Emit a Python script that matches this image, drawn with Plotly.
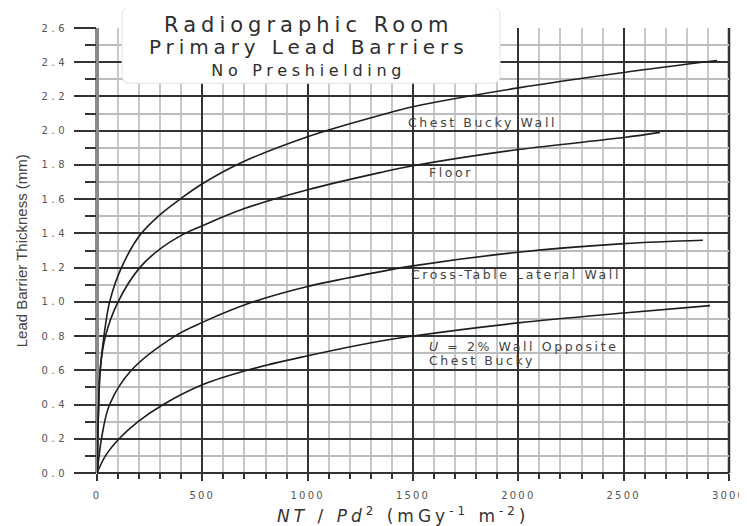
import plotly.graph_objects as go

# ---- data ----
chest_x = [0, 3, 8, 15, 33, 60, 116, 204, 300, 400, 500, 679, 1000, 1343, 1500, 2000, 2500, 2943]
chest_y = [0, 0.2, 0.4, 0.6, 0.8, 1.0, 1.2, 1.39, 1.51, 1.605, 1.69, 1.81, 1.965, 2.09, 2.14, 2.25, 2.34, 2.41]

floor_x = [0, 3, 8, 15, 40, 100, 203, 300, 418, 500, 700, 1000, 1343, 1500, 2000, 2500, 2672]
floor_y = [0, 0.2, 0.4, 0.6, 0.8, 1.0, 1.2, 1.31, 1.40, 1.445, 1.545, 1.655, 1.755, 1.795, 1.89, 1.96, 1.99]

cross_x = [0, 10, 21, 60, 163, 370, 500, 742, 1000, 1296, 1500, 2000, 2500, 2876]
cross_y = [0, 0.1, 0.2, 0.4, 0.6, 0.8, 0.88, 1.0, 1.09, 1.165, 1.21, 1.29, 1.34, 1.36]

u2_x = [0, 40, 105, 195, 315, 500, 742, 1000, 1296, 1500, 2000, 2500, 2910]
u2_y = [0, 0.1, 0.2, 0.3, 0.4, 0.515, 0.61, 0.685, 0.76, 0.80, 0.877, 0.935, 0.978]

x_tickvals = [0, 500, 1000, 1500, 2000, 2500, 3000]
x_ticklabels = ["0", "500", "1000", "1500", "2000", "2500", "3000"]
y_tickvals = [0.0, 0.2, 0.4, 0.6, 0.8, 1.0, 1.2, 1.4, 1.6, 1.8, 2.0, 2.2, 2.4, 2.6]
y_ticklabels = ["0.0", "0.2", "0.4", "0.6", "0.8", "1.0", "1.2", "1.4", "1.6", "1.8", "2.0", "2.2", "2.4", "2.6"]

curve_labels = [
    # text lines, x, y, xanchor
    (["Chest Bucky Wall"], 1828, 2.047, "center"),
    (["Floor"], 1680, 1.754, "center"),
    (["Cross-Table Lateral Wall"], 1989, 1.158, "center"),
    (["<i>U</i> = 2% Wall Opposite", "Chest Bucky"], 1566, 0.700, "left"),
]

title_lines = ["Radiographic Room", "Primary Lead Barriers", "No Preshielding"]


def spaced(t, px, size=None):
    st = "letter-spacing:%spx" % px
    if size:
        st += ";font-size:%spx" % size
    return '<span style="%s">%s</span>' % (st, t)


FONT = "DejaVu Sans, Arial, sans-serif"
LINE = dict(color="#1e1e1e", width=1.6, shape="spline", smoothing=1.0)

fig = go.Figure()
for xs, ys, nm in [(chest_x, chest_y, "Chest Bucky Wall"), (floor_x, floor_y, "Floor"),
                   (cross_x, cross_y, "Cross-Table Lateral Wall"),
                   (u2_x, u2_y, "U = 2% Wall Opposite Chest Bucky")]:
    fig.add_trace(go.Scatter(x=xs, y=ys, mode="lines", line=LINE, name=nm,
                             showlegend=False, hoverinfo="x+y"))

# page body has an 8px margin, so the figure is sized/offset to compensate
fig.update_layout(
    width=739, height=518,
    margin=dict(l=89, r=18, t=20, b=53, autoexpand=False),
    paper_bgcolor="white", plot_bgcolor="white",
    font=dict(family=FONT, color="#444"),
)

fig.update_xaxes(
    range=[0, 3000], tickvals=x_tickvals, automargin=False,
    ticktext=[spaced(t, 2.2) for t in x_ticklabels],
    tickfont=dict(size=10, color="#555", family=FONT),
    ticks="outside", ticklen=7, tickwidth=1.5, tickcolor="#333",
    ticklabelstandoff=6, ticklabeloverflow="allow",
    showgrid=True, gridcolor="#333", gridwidth=2,
    minor=dict(dtick=100, tick0=0, ticks="outside", ticklen=5, tickwidth=1.5,
               tickcolor="#333", showgrid=True, gridcolor="#c8c8c8", gridwidth=2),
    zeroline=True, zerolinecolor="#8a8a8a", zerolinewidth=4,
    showline=False,
)
fig.update_yaxes(
    range=[0, 2.6], tickvals=y_tickvals, automargin=False,
    ticktext=[spaced(t, 3.5) for t in y_ticklabels],
    tickfont=dict(size=10, color="#555", family=FONT),
    ticks="outside", ticklen=22, tickwidth=1.5, tickcolor="#333",
    ticklabelstandoff=4,
    showgrid=True, gridcolor="#333", gridwidth=1.5,
    minor=dict(dtick=0.1, tick0=0, ticks="outside", ticklen=11, tickwidth=1.5,
               tickcolor="#333", showgrid=True, gridcolor="#bdbdbd", gridwidth=1.5),
    zeroline=True, zerolinecolor="#333", zerolinewidth=1.5,
    showline=False,
)

# right border of the chart grid
fig.add_shape(type="line", xref="paper", yref="paper", x0=1, x1=1, y0=0, y1=1,
              line=dict(color="#333", width=2.5), layer="below")

# rounded title box (paper coordinates)
x0, x1, y0, y1 = 0.0396, 0.6377, 0.876, 1.047
rx, ry = 0.013, 0.018
path = (f"M {x0+rx},{y1} L {x1-rx},{y1} Q {x1},{y1} {x1},{y1-ry} "
        f"L {x1},{y0+ry} Q {x1},{y0} {x1-rx},{y0} L {x0+rx},{y0} "
        f"Q {x0},{y0} {x0},{y0+ry} L {x0},{y1-ry} Q {x0},{y1} {x0+rx},{y1} Z")
fig.add_shape(type="path", path=path, xref="paper", yref="paper",
              fillcolor="white", line=dict(color="#e2e2e2", width=1), layer="above")

title_html = "<br>".join([
    spaced(title_lines[0], 5.0, 21),
    spaced(title_lines[1], 4.9, 20),
    spaced(title_lines[2], 4.7, 16),
])
fig.add_annotation(text=title_html, xref="paper", yref="paper",
                   x=0.336, y=0.958, xanchor="center", yanchor="middle",
                   showarrow=False, font=dict(size=17, color="#2e2e2e", family=FONT))

for lines, xx, yy, xa in curve_labels:
    txt = "<br>".join(spaced(l, 2.6, 12.5) for l in lines)
    fig.add_annotation(text=txt, x=xx, y=yy, xanchor=xa, yanchor="middle", align=xa,
                       showarrow=False, font=dict(size=11, color="#444", family=FONT))

# axis titles
fig.add_annotation(text="Lead Barrier Thickness (mm)", xref="paper", yref="paper",
                   x=-0.119, y=0.5, xanchor="center", yanchor="middle", textangle=-90,
                   showarrow=False,
                   font=dict(size=15, color="#444", family="Liberation Sans Narrow, Arial Narrow, Liberation Sans, sans-serif"))
fig.add_annotation(text=spaced("<i>NT</i> / <i>Pd</i><sup>2</sup> (mGy<sup>-1</sup> m<sup>-2</sup>)", 4),
                   xref="paper", yref="paper", x=0.484, y=-0.094,
                   xanchor="center", yanchor="middle", showarrow=False,
                   font=dict(size=17, color="#333", family=FONT))

fig.write_html("out.html")
